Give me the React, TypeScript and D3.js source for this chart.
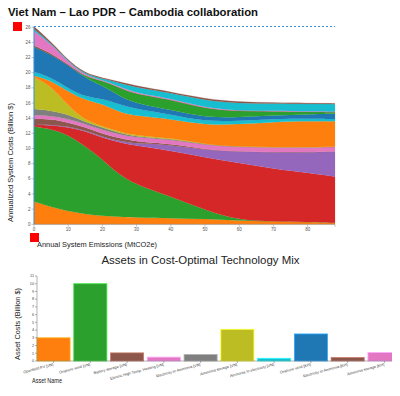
import React from 'react';
import * as d3 from 'd3';

// ---- Top chart: stacked annualized system costs vs emissions ----
const emissions = [0, 5, 10, 15, 20, 25, 30, 40, 50, 60, 70, 80, 88];
const pvVN = [3.0, 2.3, 1.7, 1.35, 1.1, 1.0, 0.9, 0.8, 0.7, 0.5, 0.4, 0.3, 0.2];
const windVN = [9.9, 10.3, 10.1, 8.95, 7.5, 5.5, 4.3, 2.9, 1.2, 0, 0, 0, 0];
const redLayer = [0.2, 0.5, 1.0, 2.0, 2.8, 4.3, 5.15, 6.0, 6.9, 7.6, 6.9, 6.5, 6.1];
const purpleLayer = [0, 0.05, 0.1, 0.1, 0.15, 0.2, 0.3, 0.8, 1.0, 1.5, 2.2, 2.7, 3.3];
const batteryVN = [0.8, 0.75, 0.5, 0.4, 0.4, 0.35, 0.25, 0.15, 0.05, 0.02, 0.02, 0.02, 0.02];
const heatingVN = [0.5, 0.4, 0.5, 0.4, 0.5, 0.5, 0.5, 0.55, 0.6, 0.58, 0.63, 0.63, 0.58];
const e2aVN = [0.8, 0.7, 0.6, 0.3, 0.3, 0.2, 0.15, 0.1, 0.05, 0.02, 0.02, 0.02, 0.02];
const nh3StorageVN = [4.2, 3.3, 1.1, 0.2, 0.2, 0.15, 0.15, 0.1, 0.05, 0.03, 0.03, 0.03, 0.03];
const orangeUpper = [0.2, 0.7, 1.9, 2.7, 2.95, 2.6, 2.6, 2.5, 2.55, 2.95, 3.3, 3.4, 3.35];
const a2eVN = [0.5, 0.4, 0.45, 0.4, 0.7, 1.0, 0.9, 0.6, 0.45, 0.45, 0.4, 0.35, 0.3];
const windKH = [3.3, 3.0, 3.05, 2.5, 1.7, 1.1, 0.7, 0.6, 0.55, 0.45, 0.5, 0.55, 0.7];
const greenUpper = [0, 0, 0, 0.1, 0.65, 1.1, 1.2, 1.4, 1.1, 0.8, 0.5, 0.3, 0.2];
const e2aKH = [0.2, 0.2, 0.1, 0.1, 0.05, 0.05, 0.05, 0.05, 0.05, 0.05, 0.05, 0.05, 0.05];
const nh3StorageKH = [1.9, 1.2, 0.3, 0.15, 0.05, 0.15, 0.15, 0.1, 0.1, 0.05, 0.05, 0.05, 0.05];
const cyanUpper = [0.25, 0.1, 0.1, 0.1, 0.2, 0.45, 0.75, 0.7, 1.0, 0.95, 0.95, 1.0, 0.95];
const brownTop = [0.35, 0.2, 0.1, 0.15, 0.1, 0.15, 0.2, 0.15, 0.2, 0.2, 0.1, 0.1, 0.1];

const layerSeries: [string, number[], string][] = [
  ['pvVN', pvVN, '#ff7f0e'],
  ['windVN', windVN, '#2ca02c'],
  ['red', redLayer, '#d62728'],
  ['purple', purpleLayer, '#9467bd'],
  ['batteryVN', batteryVN, '#8c564b'],
  ['heatingVN', heatingVN, '#e377c2'],
  ['e2aVN', e2aVN, '#7f7f7f'],
  ['nh3StorageVN', nh3StorageVN, '#bcbd22'],
  ['orangeUpper', orangeUpper, '#ff7f0e'],
  ['a2eVN', a2eVN, '#17becf'],
  ['windKH', windKH, '#1f77b4'],
  ['greenUpper', greenUpper, '#2ca02c'],
  ['e2aKH', e2aKH, '#8c564b'],
  ['nh3StorageKH', nh3StorageKH, '#e377c2'],
  ['cyanUpper', cyanUpper, '#17becf'],
  ['brownTop', brownTop, '#8c564b'],
];

const yTicksTop = d3.range(0, 27, 2);
const xTicksTop = [0, 10, 20, 30, 40, 50, 60, 70, 80];

// ---- Bottom chart: assets ----
const assetNames = [
  'Openfield PV [VN]',
  'Onshore wind [VN]',
  'Battery storage [VN]',
  'Electric High Temp. Heating [VN]',
  'Electricity to Ammonia [VN]',
  'Ammonia storage [VN]',
  'Ammonia to electricity [VN]',
  'Onshore wind [KH]',
  'Electricity to Ammonia [KH]',
  'Ammonia storage [KH]',
];
const assetCosts = [3.0, 10.0, 1.05, 0.5, 0.85, 4.1, 0.35, 3.5, 0.45, 1.1];
const assetColors = ['#ff7f0e', '#2ca02c', '#8c564b', '#e377c2', '#7f7f7f', '#bcbd22', '#17becf', '#1f77b4', '#8c564b', '#e377c2'];
const yTicksBottom = d3.range(0, 12, 1);

const FONT = "'Liberation Sans', Arial, Helvetica, sans-serif";

export default function App() {
  const x = d3.scaleLinear().domain([0, 88]).range([34, 335]);
  const y = d3.scaleLinear().domain([0, 26.1]).range([224.3, 26.5]);

  const rows = emissions.map((e, i) => {
    const r: any = { e };
    layerSeries.forEach(([k, arr]) => (r[k] = arr[i]));
    return r;
  });
  const stack = d3.stack<any>().keys(layerSeries.map((l) => l[0]));
  const stacked = stack(rows);
  const area = d3
    .area<any>()
    .x((d) => x(d.data.e))
    .y0((d) => y(d[0]))
    .y1((d) => y(d[1]))
    .curve(d3.curveBasis);

  const maxTotal = d3.max(rows, (r) => layerSeries.reduce((s, [k]) => s + r[k], 0)) as number;

  const xb = d3.scaleBand<string>().domain(assetNames).range([37, 401]).paddingInner(0.1).paddingOuter(0);
  const yb = d3.scaleLinear().domain([0, 11]).range([361, 276]);

  return (
    <svg width={400} height={396} style={{ position: 'absolute', left: 0, top: 0, fontFamily: FONT }}>
      <defs>
        <clipPath id="clipb">
          <rect x={0} y={0} width={392} height={396} />
        </clipPath>
      </defs>
      <text x={8} y={16} fontSize={11.6} fontWeight="bold" fill="#111" textLength={250} lengthAdjust="spacingAndGlyphs">
        Viet Nam – Lao PDR – Cambodia collaboration
      </text>

      <g>
        {stacked.map((s, i) => (
          <path
            key={s.key}
            d={area(s as any) || ''}
            fill={layerSeries[i][2]}
            stroke={layerSeries[i][2]}
            strokeWidth={0.3}
            strokeOpacity={0.6}
          />
        ))}
      </g>

      <line x1={34} x2={335} y1={224.3} y2={224.3} stroke="#888" strokeWidth={0.6} />
      {yTicksTop.map((t) => (
        <g key={t}>
          <line x1={31.5} x2={34} y1={y(t)} y2={y(t)} stroke="#888" strokeWidth={0.5} />
          <text x={30.5} y={y(t) + 1.6} fontSize={4.5} textAnchor="end" fill="#555">
            {t}
          </text>
        </g>
      ))}
      {xTicksTop.map((t) => (
        <g key={t}>
          <line x1={x(t)} x2={x(t)} y1={224.3} y2={226.8} stroke="#888" strokeWidth={0.5} />
          <text x={x(t)} y={231} fontSize={4.5} textAnchor="middle" fill="#555">
            {t}
          </text>
        </g>
      ))}
      <line x1={335} x2={335} y1={224.3} y2={226.8} stroke="#888" strokeWidth={0.5} />
      <line x1={x(0)} x2={x(0)} y1={y(maxTotal)} y2={224.3} stroke="#3d8fd6" strokeWidth={1} />
      <line
        x1={x(0)}
        x2={335}
        y1={y(maxTotal)}
        y2={y(maxTotal)}
        stroke="#3d8fd6"
        strokeWidth={1}
        strokeDasharray="2,2"
      />
      <rect x={13} y={22} width={9} height={9} fill="#ff0000" />
      <rect x={30} y={233} width={9} height={9} fill="#ff0000" />
      <text x={37} y={247} fontSize={7} fill="#222" textLength={120} lengthAdjust="spacingAndGlyphs">
        Annual System Emissions (MtCO2e)
      </text>
      <text transform="translate(13,222) rotate(-90)" fontSize={7} fill="#222" textLength={119} lengthAdjust="spacingAndGlyphs">
        Annualized System Costs (Billion $)
      </text>

      <text x={101.5} y={263.5} fontSize={10.8} fill="#222" textLength={198} lengthAdjust="spacingAndGlyphs">
        Assets in Cost-Optimal Technology Mix
      </text>
      <g clipPath="url(#clipb)">
        {assetNames.map((n, i) => (
          <rect
            key={n}
            x={xb(n)}
            y={yb(assetCosts[i])}
            width={xb.bandwidth()}
            height={361 - yb(assetCosts[i])}
            fill={assetColors[i]}
            stroke={d3.color(assetColors[i])!.brighter(1).toString()}
            strokeWidth={0.8}
          />
        ))}
      </g>
      <line x1={37} x2={37} y1={276} y2={361} stroke="#666" strokeWidth={0.5} />
      <line x1={37} x2={392} y1={361} y2={361} stroke="#666" strokeWidth={0.5} />
      {yTicksBottom.map((t) => (
        <g key={t}>
          <line x1={35} x2={37} y1={yb(t)} y2={yb(t)} stroke="#666" strokeWidth={0.5} />
          <text x={34} y={yb(t) + 1.3} fontSize={3.8} textAnchor="end" fill="#444">
            {t}
          </text>
        </g>
      ))}
      {assetNames.map((n) => {
        const cx = (xb(n) as number) + xb.bandwidth() / 2;
        return (
          <g key={n}>
            <line x1={cx} x2={cx} y1={361} y2={363} stroke="#666" strokeWidth={0.5} />
            <text
              transform={`translate(${cx},${365.5}) rotate(-15)`}
              fontSize={3.8}
              textAnchor="end"
              fill="#444"
            >
              {n}
            </text>
          </g>
        );
      })}
      <text transform="translate(20,360) rotate(-90)" fontSize={6.4} fill="#222" textLength={72} lengthAdjust="spacingAndGlyphs">
        Asset Costs (Billion $)
      </text>
      <text x={32} y={383} fontSize={6.5} fill="#222" textLength={30} lengthAdjust="spacingAndGlyphs">
        Asset Name
      </text>
    </svg>
  );
}
